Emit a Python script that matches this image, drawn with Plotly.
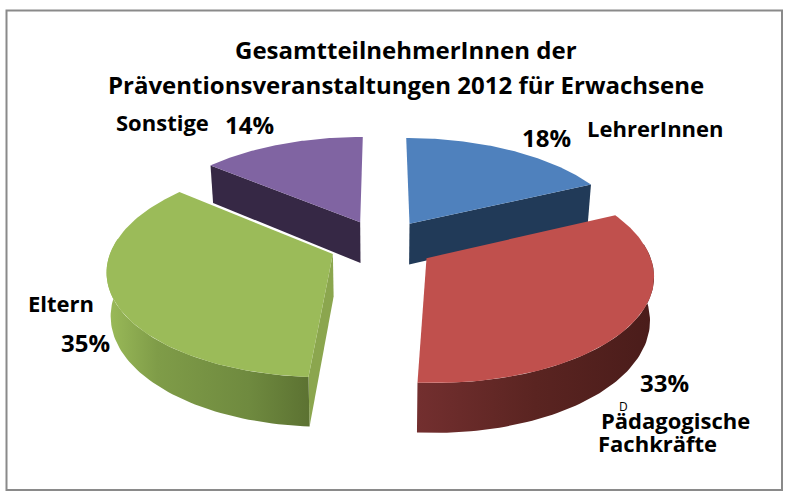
import numpy as np
import plotly.graph_objects as go

# Share of participants per group, clockwise from twelve o'clock
categories = ["LehrerInnen", "Pädagogische Fachkräfte", "Eltern", "Sonstige"]
shares = [18, 33, 35, 14]

top_colors = ["#4f81bd", "#c0504d", "#9bbb59", "#8064a2"]
cut_colors = ["#213a58", "#5a2421", "#8ba64e", "#362845"]
rim_scales = [
    [[0, "#2a4a70"], [1, "#1e3550"]],
    [[0, "#732f2f"], [0.5, "#5a2421"], [1, "#4a1c1a"]],
    [[0, "#9bbb59"], [0.25, "#7f9c48"], [0.7, "#6f8a3f"], [1, "#5c7232"]],
    [[0, "#3d2e50"], [1, "#30233f"]],
]

# Projection of the tilted pie onto the page
CX, CY = 382, 244
AX, AY = 220, 103
PERSP = 0.14
EXPLODE = 0.24
DEPTH = 42
SHRINK = 0.985


def project(wx, wy, floor=False):
    s = 1 / (1 + PERSP * wy)
    x = AX * wx * s
    y = -AY * wy * s
    if floor:
        return CX + x * SHRINK, CY + y + DEPTH * s
    return CX + x, CY + y


fig = go.Figure()


def add_poly(x, y, color=None, gradient=None):
    trace = dict(x=list(x) + [x[0]], y=list(y) + [y[0]], mode="lines", fill="toself",
                 line=dict(width=0), hoverinfo="skip", showlegend=False)
    if gradient:
        trace["fillgradient"] = dict(type="horizontal", colorscale=gradient)
    else:
        trace["fillcolor"] = color
    fig.add_trace(go.Scatter(**trace))


def slice_parts(start_share, share):
    t0 = 2 * np.pi * start_share / 100
    t1 = 2 * np.pi * (start_share + share) / 100
    mid = (t0 + t1) / 2
    ox, oy = EXPLODE * np.sin(mid), EXPLODE * np.cos(mid)
    t = np.linspace(t0, t1, 90)
    return t0, t1, ox, oy, t


def draw_cut(ox, oy, angle, color):
    ex, ey = ox + np.sin(angle), oy + np.cos(angle)
    p = [project(ox, oy), project(ex, ey), project(ex, ey, True), project(ox, oy, True)]
    add_poly([q[0] for q in p], [q[1] for q in p], color)


def draw_slice(i, start_share):
    t0, t1, ox, oy, t = slice_parts(start_share, shares[i])
    wx, wy = ox + np.sin(t), oy + np.cos(t)
    # Straight cut faces that look toward the viewer
    if np.cos(t0) * 0 + (np.sin(t1) > 0) and i == 0:
        draw_cut(ox, oy, t1, cut_colors[i])
    if i == 3:
        draw_cut(ox, oy, t0, cut_colors[i])
    if i == 2:
        draw_cut(ox, oy, t0, cut_colors[i])
    # Rounded outer rim, only the part facing front
    front = np.cos(t) < 0.15
    if front.any():
        tx, ty = project(wx[front], wy[front])
        bx, by = project(wx[front], wy[front], True)
        add_poly(np.r_[tx, bx[::-1]], np.r_[ty, by[::-1]], gradient=rim_scales[i])
    # Top face
    px, py = project(wx, wy)
    ax, ay = project(ox, oy)
    add_poly(np.r_[ax, px], np.r_[ay, py], top_colors[i])


starts = np.r_[0, np.cumsum(shares)[:-1]]
for i in [3, 0, 2, 1]:
    draw_slice(i, starts[i])

FONT = "Open Sans"
labels = [
    ("Gesamtteilnehmer" + "Innen der", 406, 49, 24),
    ("Präventionsveranstaltungen 2012 für Erwachsene", 406, 84, 24),
    ("Sonstige", 162, 122, 22),
    (f"{shares[3]}%", 249, 124, 24),
    (f"{shares[0]}%", 546, 137, 24),
    ("LehrerInnen", 655, 128, 22),
    ("Eltern", 61, 303, 22),
    (f"{shares[2]}%", 85, 342, 24),
    (f"{shares[1]}%", 664, 382, 24),
    ("Pädagogische", 675, 420, 22),
    ("Fachkräfte", 657, 443, 22),
]
annotations = [
    dict(x=x, y=y, text=f"<b>{txt}</b>", showarrow=False, xref="x", yref="y",
         xanchor="center", yanchor="middle", font=dict(family=FONT, size=sz, color="#000000"))
    for txt, x, y, sz in labels
]
annotations.append(dict(x=623, y=406, text="D", showarrow=False, xref="x", yref="y",
                        font=dict(family=FONT, size=12, color="#000000")))

fig.update_layout(
    width=790, height=497, margin=dict(l=0, r=0, t=0, b=0, pad=0),
    paper_bgcolor="#ffffff", plot_bgcolor="#ffffff", showlegend=False,
    xaxis=dict(range=[0, 790], visible=False, fixedrange=True),
    yaxis=dict(range=[497, 0], visible=False, fixedrange=True),
    annotations=annotations,
    shapes=[dict(type="rect", xref="x", yref="y", x0=6.5, y0=10.5, x1=782, y1=490,
                 line=dict(color="#8a8a8a", width=2), fillcolor="rgba(0,0,0,0)", layer="below")],
)
fig.write_html("out.html", config={"displayModeBar": False})
